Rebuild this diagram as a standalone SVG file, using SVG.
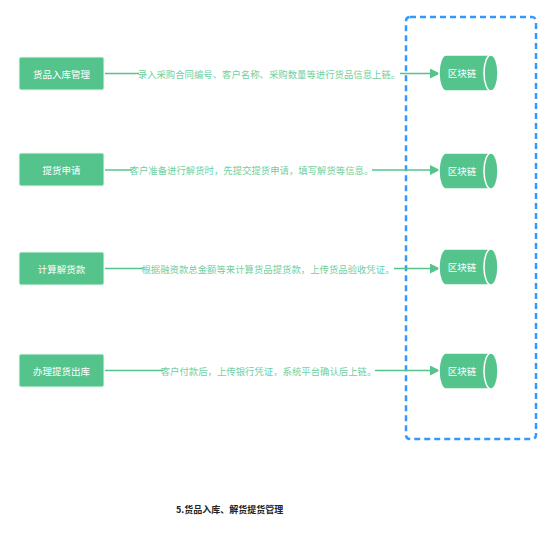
<svg xmlns="http://www.w3.org/2000/svg" width="554" height="541" viewBox="0 0 554 541">
<defs>
<style>
.box{fill:#55c48c;stroke:#e8f6ee;stroke-width:1}
.bl{font-family:"Noto Sans CJK SC","Liberation Sans",sans-serif;font-size:9.5px;fill:#ffffff;text-anchor:middle;dominant-baseline:central}
.lbl{font-family:"Noto Sans CJK SC","Liberation Sans",sans-serif;font-size:9.4px;fill:#6fcf9e;text-anchor:middle;dominant-baseline:central}
.ln{stroke:#55c48c;stroke-width:1.5;fill:none}
.cyl{fill:#55c48c;stroke:#ffffff;stroke-width:1.5}
.title{font-family:"Noto Sans CJK SC","Liberation Sans",sans-serif;font-size:9px;font-weight:bold;fill:#222222;dominant-baseline:central}
</style>
<marker id="ah" viewBox="0 0 10 10" refX="9" refY="5" markerWidth="10" markerHeight="10" markerUnits="userSpaceOnUse" orient="auto">
<path d="M0,0 L10,5 L0,10 Z" fill="#55c48c"/>
</marker>
<symbol id="cy" overflow="visible">
<path class="cyl" d="M7,0 L52,0 A7,18 0 0 1 52,36 L7,36 A7,18 0 0 1 7,0 Z"/>
<ellipse class="cyl" cx="52" cy="18" rx="7" ry="18"/>
<text class="bl" x="23" y="18">区块链</text>
</symbol>
</defs>
<rect width="554" height="541" fill="#ffffff"/>
<rect id="zone" x="406" y="17" width="130" height="422" rx="4" fill="none" stroke="#3399ff" stroke-width="2.5" stroke-dasharray="6,4"/>
<g id="connectors">
<line class="ln" x1="105" y1="73.5" x2="439" y2="73.5" marker-end="url(#ah)"/>
<line class="ln" x1="105" y1="170" x2="439" y2="170" marker-end="url(#ah)"/>
<line class="ln" x1="105" y1="268.5" x2="439" y2="268.5" marker-end="url(#ah)"/>
<line class="ln" x1="105" y1="370.5" x2="439" y2="370.5" marker-end="url(#ah)"/>
<rect x="139" y="66" width="261" height="15" fill="#ffffff"/>
<rect x="132" y="162" width="240" height="15" fill="#ffffff"/>
<rect x="143" y="261" width="251" height="15" fill="#ffffff"/>
<rect x="163" y="363" width="212" height="15" fill="#ffffff"/>
<text class="lbl" x="269" y="73.5">录入采购合同编号、客户名称、采购数量等进行货品信息上链。</text>
<text class="lbl" x="251.5" y="169.5">客户准备进行解货时，先提交提货申请，填写解货等信息。</text>
<text class="lbl" x="268" y="268.5">根据融资款总金额等来计算货品提货款，上传货品验收凭证。</text>
<text class="lbl" x="268.5" y="370.5">客户付款后，上传银行凭证，系统平台确认后上链。</text>
</g>
<g id="n1"><rect class="box" x="19" y="57" width="85" height="33" rx="2"/><text class="bl" x="61.5" y="73.5">货品入库管理</text></g>
<g id="n2"><rect class="box" x="19" y="153" width="85" height="33" rx="2"/><text class="bl" x="61.5" y="169.5">提货申请</text></g>
<g id="n3"><rect class="box" x="19" y="252" width="85" height="33" rx="2"/><text class="bl" x="61.5" y="268.5">计算解货款</text></g>
<g id="n4"><rect class="box" x="19" y="354" width="85" height="33" rx="2"/><text class="bl" x="61.5" y="370.5">办理提货出库</text></g>
<g id="c1"><use href="#cy" x="439" y="55"/></g>
<g id="c2"><use href="#cy" x="439" y="153"/></g>
<g id="c3"><use href="#cy" x="439" y="249"/></g>
<g id="c4"><use href="#cy" x="439" y="353"/></g>
<text class="title" x="176" y="509">5.货品入库、解货提货管理</text>
</svg>
